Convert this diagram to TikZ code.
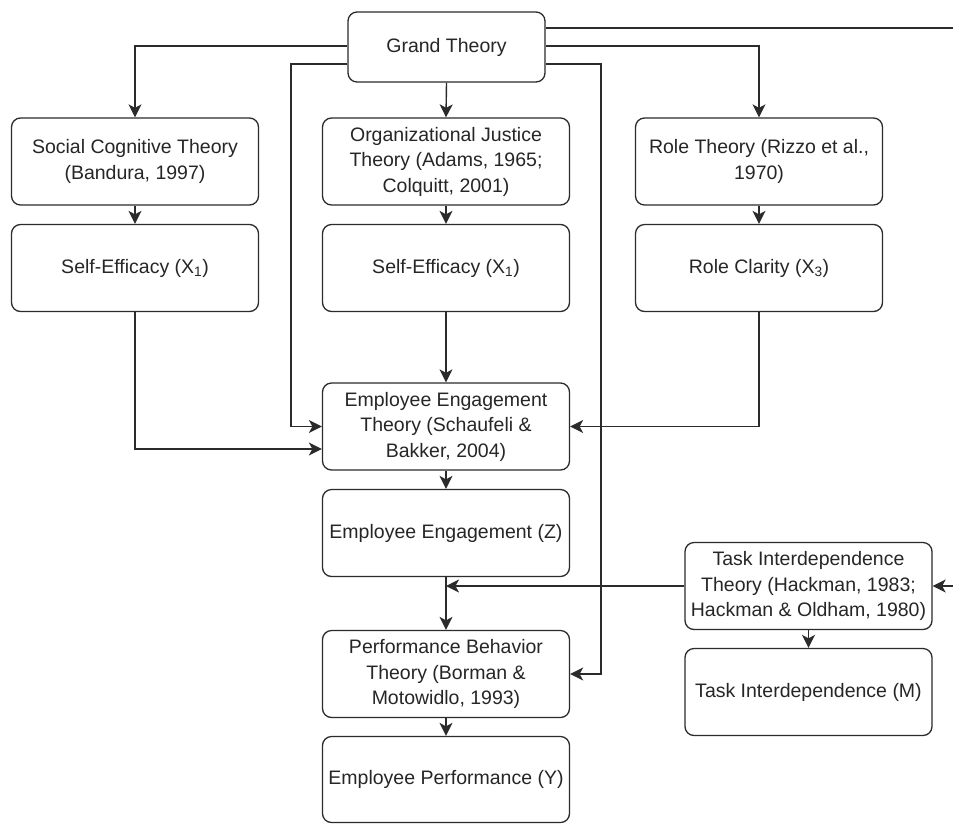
\documentclass[tikz,border=0pt]{standalone}
\usepackage{fontspec}
\setmainfont{Liberation Sans}
\usetikzlibrary{arrows.meta}
\definecolor{ln}{HTML}{2b2b2b}
\tikzset{
  box/.style={draw=ln, line width=1.3pt, rounded corners=9pt, fill=white,
    minimum width=247pt, minimum height=87pt, align=center, inner sep=1pt,
    font=\fontsize{19.5}{25.5}\selectfont, text=black!85},
  arr/.style={draw=ln, line width=1.4pt, -{Stealth[length=13pt,width=13pt,inset=3.5pt]}},
  plain/.style={draw=ln, line width=1.4pt}
}
\begin{document}
\begin{tikzpicture}[x=1pt,y=-1pt]
\useasboundingbox (0,0) rectangle (953,823);
\node[box, minimum width=197pt, minimum height=70pt] (grand) at (446.5,47) {Grand Theory};
\node[box] (sct) at (135,161.5) {Social Cognitive Theory\\(Bandura, 1997)};
\node[box] (se1) at (135,268) {Self-Efficacy (X\textsubscript{1})};
\node[box] (oj) at (446,161.5) {Organizational Justice\\Theory (Adams, 1965;\\Colquitt, 2001)};
\node[box] (se2) at (446,268) {Self-Efficacy (X\textsubscript{1})};
\node[box] (rt) at (759,161.5) {Role Theory (Rizzo et al.,\\1970)};
\node[box] (rc) at (759,268) {Role Clarity (X\textsubscript{3})};
\node[box] (eet) at (446,426.5) {Employee Engagement\\Theory (Schaufeli \&\\Bakker, 2004)};
\node[box] (ee) at (446,533) {Employee Engagement (Z)};
\node[box] (pbt) at (446,674) {Performance Behavior\\Theory (Borman \&\\Motowidlo, 1993)};
\node[box, minimum height=86pt] (ep) at (446,779.5) {Employee Performance (Y)};
\node[box] (tit) at (808.5,586) {Task Interdependence\\Theory (Hackman, 1983;\\Hackman \& Oldham, 1980)};
\node[box] (tim) at (808.5,692) {Task Interdependence (M)};

\coordinate (rtail) at (980,300);
\coordinate (mid) at (ee.south |- tit.west);

% from Grand Theory
\draw[arr] ([yshift=1pt]grand.west) -| (sct.north);
\draw[arr] ([yshift=1pt]grand.east) -| (rt.north);
\draw[arr] (grand.south) -- (oj.north);
\draw[arr] ([yshift=-17pt]grand.west) -| ([xshift=-31pt]eet.west) -- (eet.west);
\draw[arr] ([yshift=-17pt]grand.east) -| ([xshift=31pt]pbt.east) -- (pbt.east);
\draw[arr] ([yshift=19pt]grand.east) -| (rtail) |- (tit.east);

% theory to variable
\draw[arr] (sct) -- (se1);
\draw[arr] (oj) -- (se2);
\draw[arr] (rt) -- (rc);
\draw[arr] (eet) -- (ee);
\draw[arr] (pbt) -- (ep);
\draw[arr] (tit) -- (tim);

% to Employee Engagement Theory
\draw[arr] (se1.south) |- ([yshift=-22.5pt]eet.west);
\draw[arr] (se2.south) -- (eet.north);
\draw[arr] (rc.south) |- (eet.east);

% Z to performance, moderation
\draw[arr] (ee.south) -- (pbt.north);
\draw[arr] (tit.west) -- (mid);
\end{tikzpicture}
\end{document}
